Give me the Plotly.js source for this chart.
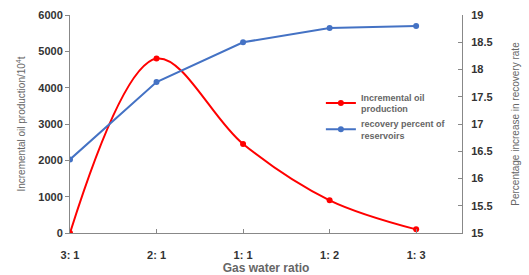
<!DOCTYPE html>
<html><head><meta charset="utf-8">
<script src="https://cdn.plot.ly/plotly-3.0.1.min.js"></script>
<style>html,body{margin:0;padding:0;background:#fff}#c{width:529px;height:275px}</style>
</head><body><div id="c"></div>
<script>
const categories = ["3: 1", "2: 1", "1: 1", "1: 2", "1: 3"];
const oilIncrement = [0, 4800, 2450, 900, 100];
const recoveryPercent = [16.35, 17.77, 18.5, 18.76, 18.8];
const leftTicks = [0, 1000, 2000, 3000, 4000, 5000, 6000];
const rightTicks = [15, 15.5, 16, 16.5, 17, 17.5, 18, 18.5, 19];

const idx = categories.map((_, i) => i);
const FAM = "Liberation Sans, Arial, sans-serif";
const tickFont = {family: FAM, size: 11, color: "#333", weight: "bold"};

const traces = [
  {x: idx, y: oilIncrement, type: "scatter", mode: "lines+markers",
   name: "Incremental oil<br>production",
   line: {color: "#ff0000", width: 2, shape: "spline", smoothing: 1},
   marker: {color: "#ff0000", size: 6}},
  {x: idx, y: recoveryPercent, type: "scatter", mode: "lines+markers", yaxis: "y2",
   name: "recovery percent of<br>reservoirs",
   line: {color: "#4472c4", width: 2},
   marker: {color: "#4472c4", size: 6}}
];

const layout = {
  width: 529, height: 275,
  margin: {l: 70, r: 67, t: 15, b: 42},
  paper_bgcolor: "#fff", plot_bgcolor: "#fff",
  showlegend: true,
  legend: {x: 0.64, y: 0.68, xanchor: "left", yanchor: "top", bgcolor: "rgba(0,0,0,0)",
           font: {family: FAM, size: 9, color: "#666", weight: "bold"},
           tracegroupgap: 0},
  xaxis: {range: [0, 4.53], tickvals: idx, ticktext: categories, showgrid: false, zeroline: false,
          showline: true, linecolor: "#888", linewidth: 1, ticks: "inside", ticklen: 4, tickcolor: "#888",
          tickfont: tickFont, ticklabelstandoff: 12,
          title: {text: "Gas water ratio", font: {family: FAM, size: 12, color: "#666", weight: "bold"}, standoff: 4}},
  yaxis: {range: [0, 6000], tickvals: leftTicks, showgrid: false, zeroline: false,
          showline: true, linecolor: "#888", linewidth: 1, ticks: "outside", ticklen: 4, tickcolor: "#888",
          tickfont: tickFont,
          title: {text: "Incremental oil production/10<sup>4</sup>t", font: {family: FAM, size: 10, color: "#666"}, standoff: 10}},
  yaxis2: {range: [15, 19], tickvals: rightTicks, overlaying: "y", side: "right", showgrid: false, zeroline: false,
           showline: true, linecolor: "#888", linewidth: 1, ticks: "inside", ticklen: 4, tickcolor: "#888",
           tickfont: tickFont, ticklabelstandoff: 6,
           title: {text: "Percentage increase in recovery rate", font: {family: FAM, size: 10, color: "#666"}, standoff: 20}}
};
Plotly.newPlot("c", traces, layout, {displayModeBar: false, staticPlot: true});
</script></body></html>
